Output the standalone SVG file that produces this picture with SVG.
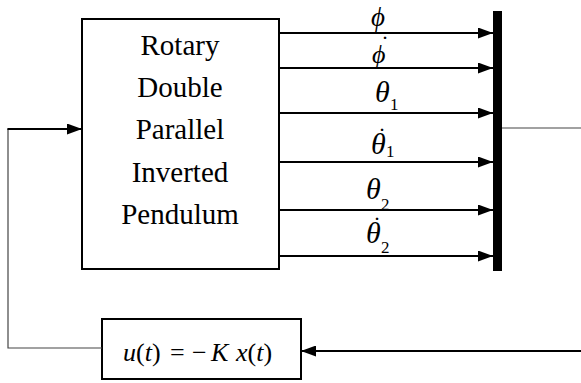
<svg xmlns="http://www.w3.org/2000/svg" width="581" height="383" viewBox="0 0 581 383">
<defs>
<style>
.box{fill:#fff;stroke:#000;stroke-width:2}
.ar{stroke:#000;stroke-width:2;fill:none}
.thin{stroke:#444;stroke-width:1.2;fill:none}
.it{font-style:italic}
</style>
<marker id="ah" markerUnits="userSpaceOnUse" markerWidth="15" markerHeight="11" refX="15" refY="5.5" orient="auto">
<path d="M0,0 L15,5.5 L0,11 z" fill="#000"/>
</marker>
</defs>
<g id="plant">
<rect class="box" x="82" y="19" width="197" height="250"/>
<g font-family="Liberation Serif, serif" font-size="29" text-anchor="middle" fill="#000">
<text x="180" y="55">Rotary</text>
<text x="180" y="97">Double</text>
<text x="180" y="139">Parallel</text>
<text x="180" y="182">Inverted</text>
<text x="180" y="224">Pendulum</text>
</g>
</g>
<g id="mux">
<rect x="493" y="11" width="9" height="260" fill="#000"/>
</g>
<g id="controller">
<rect class="box" x="102" y="319" width="199" height="60"/>
<text x="123" y="361" font-family="Liberation Serif, serif" font-size="26" fill="#000"><tspan class="it">u</tspan>(<tspan class="it">t</tspan>)<tspan x="170">=</tspan><tspan x="192">−</tspan><tspan x="211" class="it">K</tspan><tspan x="236" class="it">x</tspan>(<tspan class="it">t</tspan>)</text>
</g>
<g id="connectors">
<line class="ar" x1="279" y1="33" x2="493" y2="33" marker-end="url(#ah)"/>
<line class="ar" x1="279" y1="68" x2="493" y2="68" marker-end="url(#ah)"/>
<line class="ar" x1="279" y1="113" x2="493" y2="113" marker-end="url(#ah)"/>
<line class="ar" x1="279" y1="162" x2="493" y2="162" marker-end="url(#ah)"/>
<line class="ar" x1="279" y1="210" x2="493" y2="210" marker-end="url(#ah)"/>
<line class="ar" x1="279" y1="256" x2="493" y2="256" marker-end="url(#ah)"/>
<line class="thin" x1="502" y1="128" x2="581" y2="128"/>
<line class="ar" x1="581" y1="351" x2="301" y2="351" marker-end="url(#ah)"/>
<polyline class="thin" points="102,348 8,348 8,129"/>
<line class="ar" x1="7.4" y1="129" x2="82" y2="129" marker-end="url(#ah)"/>
</g>
<g id="labels" font-family="Liberation Serif, serif" fill="#000">
<g font-style="italic" font-size="30">
<text x="371" y="26" font-size="27">ϕ</text>
<text x="372" y="63" font-size="26">ϕ<tspan x="381" y="52" font-style="normal" font-size="24">˙</tspan></text>
<text x="375" y="102">θ</text>
<text x="371" y="154">θ<tspan x="378" y="144" font-style="normal" font-size="24">˙</tspan></text>
<text x="366" y="199">θ</text>
<text x="366" y="243">θ<tspan x="373" y="233" font-style="normal" font-size="24">˙</tspan></text>
</g>
<g font-size="17">
<text x="390" y="110">1</text>
<text x="386" y="157">1</text>
<text x="381" y="210">2</text>
<text x="381" y="253">2</text>
</g>
</g>
</svg>
